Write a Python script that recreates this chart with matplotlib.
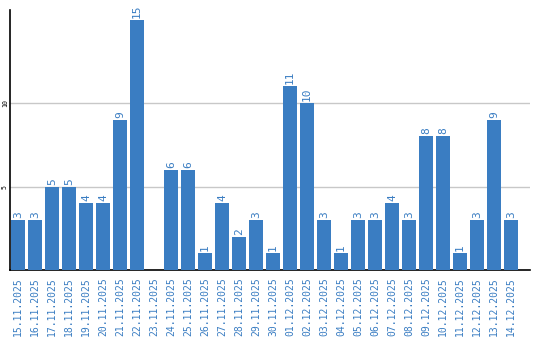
import matplotlib
matplotlib.use("Agg")
import matplotlib.pyplot as plt

dates = ["15.11.2025","16.11.2025","17.11.2025","18.11.2025","19.11.2025","20.11.2025",
         "21.11.2025","22.11.2025","23.11.2025","24.11.2025","25.11.2025","26.11.2025",
         "27.11.2025","28.11.2025","29.11.2025","30.11.2025","01.12.2025","02.12.2025",
         "03.12.2025","04.12.2025","05.12.2025","06.12.2025","07.12.2025","08.12.2025",
         "09.12.2025","10.12.2025","11.12.2025","12.12.2025","13.12.2025","14.12.2025"]
values = [3,3,5,5,4,4,9,15,0,6,6,1,4,2,3,1,11,10,3,1,3,3,4,3,8,8,1,3,9,3]
yticks = [5, 10]

bar_color = "#3a7dc2"
text_color = "#3a7dc2"

fig = plt.figure(figsize=(5.4, 3.4), dpi=100)
ax = fig.add_axes([10/540, 70/340, 520/540, 260/340])
x = list(range(len(values)))
ax.bar(x, values, width=0.82, color=bar_color, zorder=3)
for xi, v in zip(x, values):
    if v > 0:
        ax.text(xi, v + 0.12, str(v), rotation=90, ha="center", va="bottom",
                color=text_color, fontsize=8, family="DejaVu Sans Mono")
ax.set_xlim(-0.47, 30.12)
ax.set_ylim(0, 15.57)
ax.set_yticks(yticks)
ax.set_yticklabels([str(t) for t in yticks], rotation=90, va="center",
                   fontsize=4.8, family="DejaVu Sans Mono")
ax.set_xticks(x)
ax.set_xticklabels(dates, rotation=90, color=text_color, fontsize=7,
                   family="DejaVu Sans Mono")
ax.tick_params(axis="x", length=0, pad=5)
ax.tick_params(axis="y", length=0, pad=1.5)
ax.grid(axis="y", color="#c8c8c8", linewidth=1, zorder=0)
for s in ["top", "right"]:
    ax.spines[s].set_visible(False)
ax.spines["left"].set_linewidth(1.2)
ax.spines["bottom"].set_linewidth(1.2)
fig.savefig("out.png", dpi=100)
